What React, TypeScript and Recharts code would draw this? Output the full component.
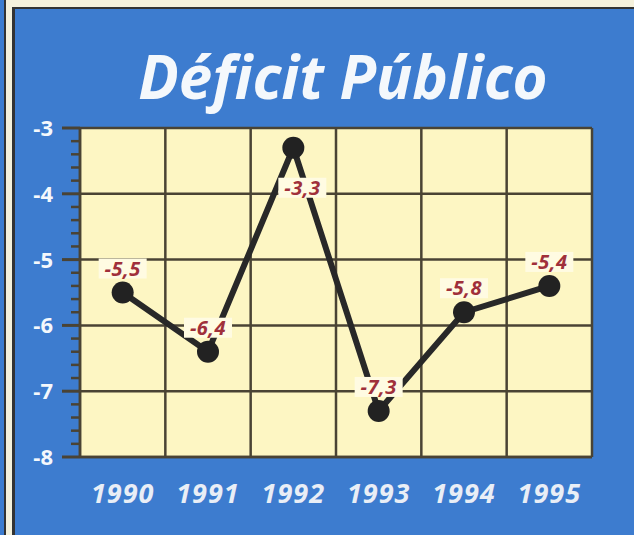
import React from "react";
import {
  LineChart,
  Line,
  XAxis,
  YAxis,
  CartesianGrid,
  LabelList,
} from "recharts";

const YEARS = ["1990", "1991", "1992", "1993", "1994", "1995"];
const DEFICIT = [-5.5, -6.4, -3.3, -7.3, -5.8, -5.4];
const Y_MAJOR_TICKS = [-8, -7, -6, -5, -4, -3];
const Y_MINOR_STEP = 0.2;

const BLUE = "#3d7ccf";
const CREAM = "#fdf6c3";
const LABEL_BG = "#fffbe2";
const DARK = "#4a4334";
const LINE = "#282828";
const RED = "#a0303a";
const FONT = "'Open Sans', 'DejaVu Sans', sans-serif";

const data = YEARS.map((year, i) => ({ year, value: DEFICIT[i] }));

// every 0.2 between the whole numbers, the whole ones get a label
const yTicks: number[] = [];
for (let v = Y_MAJOR_TICKS[0]; v <= Y_MAJOR_TICKS[Y_MAJOR_TICKS.length - 1] + 1e-9; v += Y_MINOR_STEP) {
  yTicks.push(Math.round(v * 10) / 10);
}

const isMajor = (v: number) => Math.abs(v - Math.round(v)) < 1e-6;

function YTick(props: any) {
  const { x, y, payload } = props;
  const v = payload.value as number;
  const major = isMajor(v);
  return (
    <g>
      <line
        x1={x - (major ? 18 : 9)}
        x2={x}
        y1={y}
        y2={y}
        stroke={DARK}
        strokeWidth={major ? 3 : 2.5}
      />
      {major && (
        <text
          x={x - 27}
          y={y}
          dy={8}
          textAnchor="end"
          fill="#f4f8fc"
          fontFamily={FONT}
          fontWeight={700}
          fontSize={22}
        >
          {v}
        </text>
      )}
    </g>
  );
}

function XTick(props: any) {
  const { x, y, payload } = props;
  return (
    <text
      x={x}
      y={y + 38}
      textAnchor="middle"
      fill="#e9eef6"
      fontFamily={FONT}
      fontStyle="italic"
      fontWeight={700}
      fontSize={27}
      letterSpacing={1}
    >
      {payload.value}
    </text>
  );
}

function ValueLabel(props: any) {
  const { x, y, value } = props;
  // labels that would run off the top of the plot go under the point
  const below = y < 160;
  const cx = below ? x + 9 : x;
  const cy = below ? y + 40 : y - 24;
  const text = String(value).replace(".", ",");
  const w = text.length * 11 + 4;
  return (
    <g>
      <rect x={cx - w / 2} y={cy - 10} width={w} height={20} fill={LABEL_BG} />
      <text
        x={cx}
        y={cy}
        dy={7}
        textAnchor="middle"
        fill={RED}
        fontFamily={FONT}
        fontStyle="italic"
        fontWeight={700}
        fontSize={20}
        letterSpacing={0.5}
      >
        {text}
      </text>
    </g>
  );
}

export default function App() {
  return (
    <div
      style={{
        position: "absolute",
        left: 0,
        top: 0,
        width: 634,
        height: 535,
        background: "#f5f1dc",
        overflow: "hidden",
      }}
    >
      <div style={{ position: "absolute", left: 0, top: 0, width: 4, height: 535, background: BLUE }} />
      <div style={{ position: "absolute", left: 4, top: 0, width: 2, height: 535, background: "#333" }} />
      <div
        style={{
          position: "absolute",
          left: 12,
          top: 7,
          width: 622,
          height: 528,
          background: BLUE,
          borderTop: "2px solid #333",
          borderLeft: "3px solid #333",
        }}
      >
        <div
          style={{
            position: "absolute",
            left: 0,
            top: 38,
            width: 656,
            textAlign: "center",
            color: "#f4f8fc",
            fontFamily: FONT,
            fontStyle: "italic",
            fontWeight: 700,
            fontSize: 60,
            lineHeight: "58px",
          }}
        >
          Déficit Público
        </div>
        <LineChart
          width={619}
          height={526}
          data={data}
          margin={{ top: 119, right: 42, bottom: 0, left: 0 }}
        >
          <CartesianGrid
            fill={CREAM}
            fillOpacity={1}
            stroke={DARK}
            strokeWidth={2.5}
            horizontalValues={Y_MAJOR_TICKS}
            verticalCoordinatesGenerator={({ offset }: any) => {
              const step = offset.width / YEARS.length;
              return [...YEARS.map((_, i) => offset.left + i * step), offset.left + offset.width];
            }}
          />
          <XAxis
            dataKey="year"
            scale="band"
            height={78}
            interval={0}
            tickLine={false}
            axisLine={{ stroke: DARK, strokeWidth: 2.5 }}
            tick={<XTick />}
          />
          <YAxis
            domain={[-8, -3]}
            ticks={yTicks}
            interval={0}
            width={65}
            tickSize={0}
            tickMargin={0}
            tickLine={false}
            allowDataOverflow
            axisLine={{ stroke: DARK, strokeWidth: 2.5 }}
            tick={<YTick />}
          />
          <Line
            type="linear"
            dataKey="value"
            stroke={LINE}
            strokeWidth={6}
            dot={{ r: 11, fill: "#222", stroke: "#222", strokeWidth: 0 }}
            activeDot={false}
            isAnimationActive={false}
          >
            <LabelList dataKey="value" content={<ValueLabel />} />
          </Line>
        </LineChart>
      </div>
    </div>
  );
}
